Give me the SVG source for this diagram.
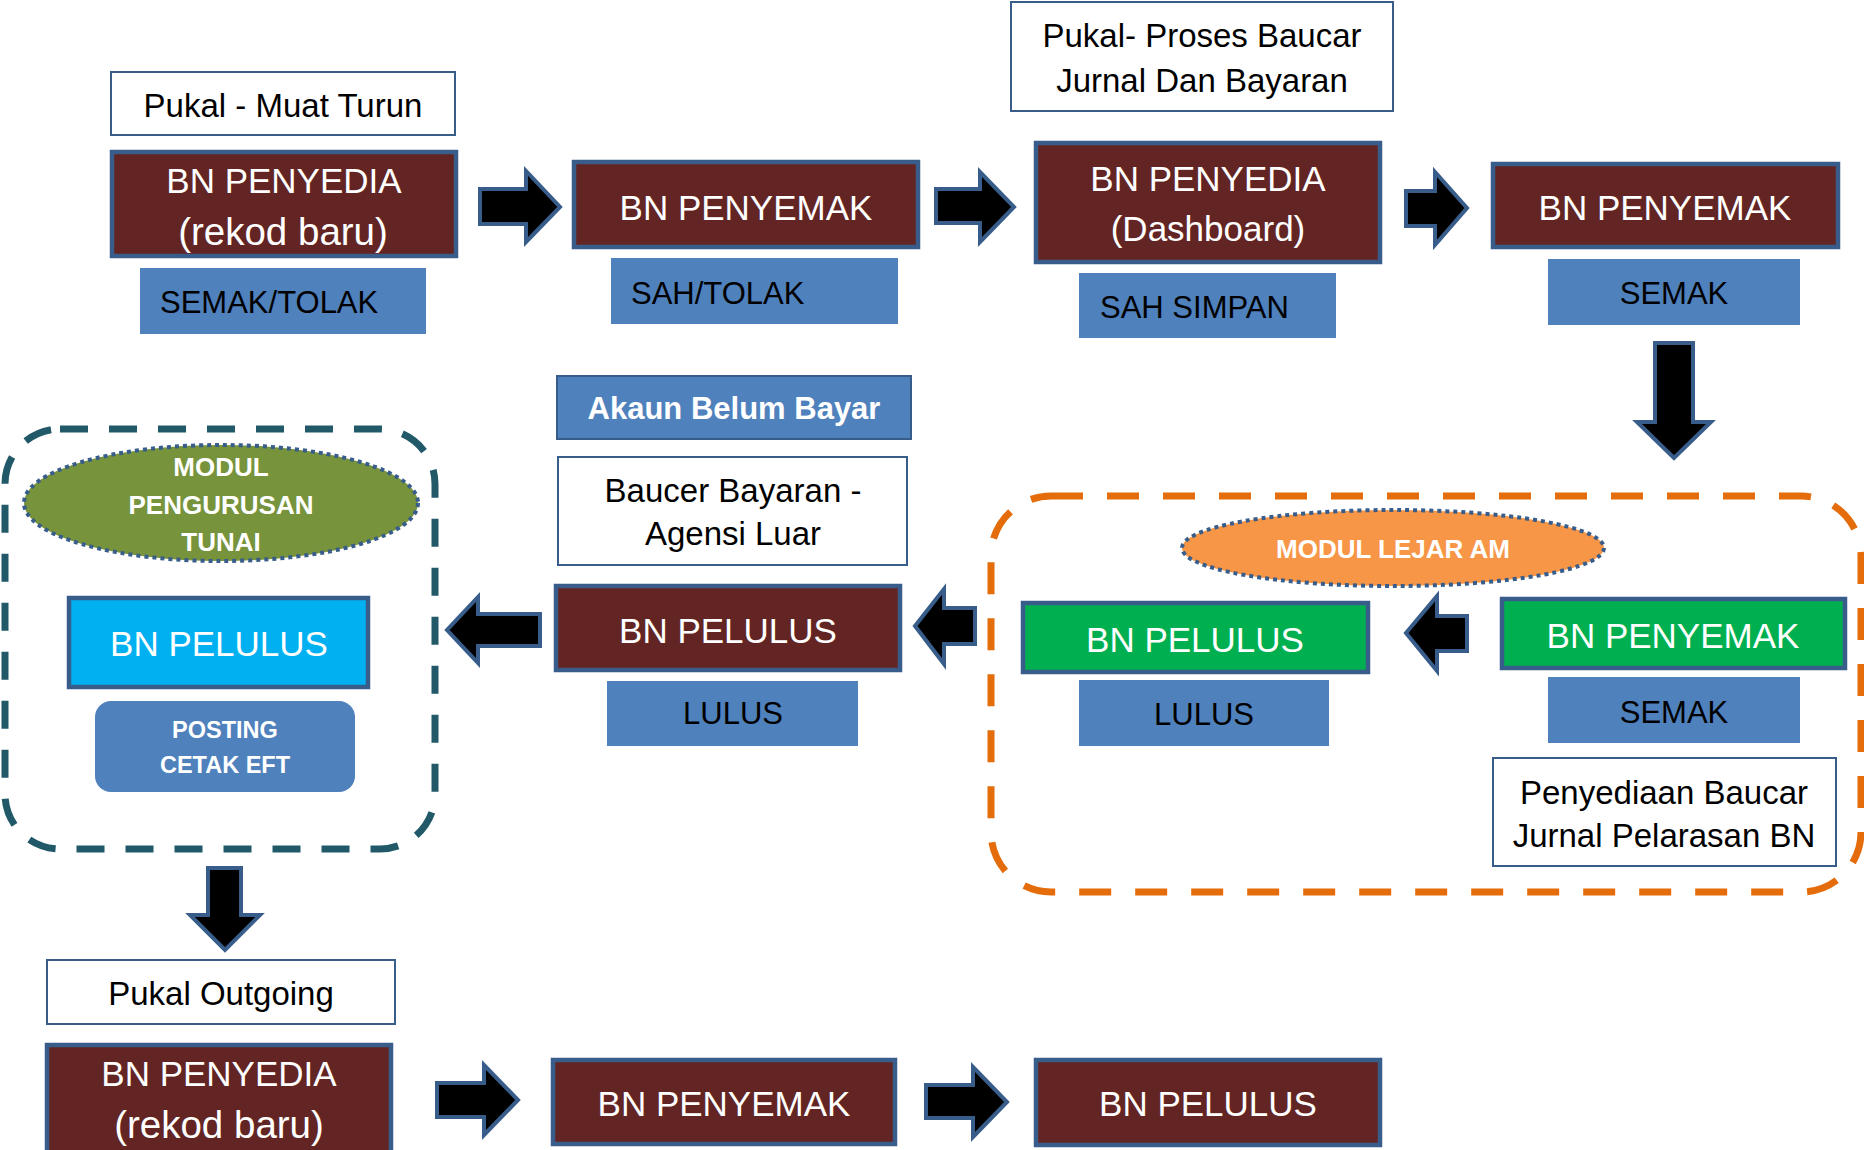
<svg xmlns="http://www.w3.org/2000/svg" width="1864" height="1150" viewBox="0 0 1864 1150">
<style>
text{font-family:"Liberation Sans",Arial,sans-serif;dominant-baseline:central}
.dr{fill:#632523;stroke:#385d8a;stroke-width:4.5}
.gr{fill:#00b050;stroke:#385d8a;stroke-width:4.5}
.cy{fill:#00b0f0;stroke:#385d8a;stroke-width:4.5}
.lb{fill:#4f81bd}
.wb{fill:#ffffff;stroke:#385d8a;stroke-width:2}
.big{fill:#ffffff;font-size:35px;text-anchor:middle}
.par{font-size:38.5px}
.sm{fill:#000000;font-size:31px}
.wt{fill:#000000;font-size:33px;text-anchor:middle}
.bw{fill:#ffffff;font-weight:bold;text-anchor:middle}
.arr{fill:#000000;stroke:#385d8a;stroke-width:4;stroke-linejoin:miter}
.dot{stroke:#385d8a;stroke-width:4;stroke-dasharray:4 4}
</style>

<g id="group-lejar">
<rect x="991" y="496" width="870" height="396" rx="60" ry="60" fill="none" stroke="#e46c0a" stroke-width="7" stroke-dasharray="32 24"/>
</g>
<g id="group-tunai">
<rect x="5" y="429" width="430" height="420" rx="55" ry="55" fill="none" stroke="#215968" stroke-width="7" stroke-dasharray="28 21"/>
</g>

<g id="connectors">
<polygon class="arr" points="480,189 526,189 526,171 560,207 526,242 526,224 480,224"/>
<polygon class="arr" points="936,189 980,189 980,172 1014,207 980,242 980,223 936,223"/>
<polygon class="arr" points="1406,191 1435,191 1435,172 1467,208 1435,245 1435,226 1406,226"/>
<polygon class="arr" points="1655,343 1693,343 1693,422 1711,422 1674,458 1637,422 1655,422"/>
<polygon class="arr" points="1467,616 1437,616 1437,596 1406,633 1437,671 1437,651 1467,651"/>
<polygon class="arr" points="975,608 944,608 944,589 915,626 944,664 944,644 975,644"/>
<polygon class="arr" points="540,614 478,614 478,597 447,630 478,663 478,646 540,646"/>
<polygon class="arr" points="208,868 241,868 241,915 260,915 225,950 190,915 208,915"/>
<polygon class="arr" points="437,1083 484,1083 484,1065 518,1100 484,1135 484,1117 437,1117"/>
<polygon class="arr" points="926,1085 973,1085 973,1067 1007,1102 973,1137 973,1118 926,1118"/>
</g>

<g id="label-muat-turun">
<rect class="wb" x="111" y="72" width="344" height="63"/>
<text class="wt" x="283" y="105">Pukal - Muat Turun</text>
</g>
<g id="node-penyedia-1">
<rect class="dr" x="112" y="152" width="344" height="104"/>
<text class="big" x="284" y="180">BN PENYEDIA</text>
<text class="big par" x="283" y="231">(rekod baru)</text>
</g>
<g id="label-semak-tolak">
<rect class="lb" x="140" y="268" width="286" height="66"/>
<text class="sm" x="160" y="302">SEMAK/TOLAK</text>
</g>

<g id="node-penyemak-1">
<rect class="dr" x="574" y="162" width="344" height="85"/>
<text class="big" x="746" y="207">BN PENYEMAK</text>
</g>
<g id="label-sah-tolak">
<rect class="lb" x="611" y="258" width="287" height="66"/>
<text class="sm" x="631" y="293">SAH/TOLAK</text>
</g>

<g id="label-proses-baucar">
<rect class="wb" x="1011" y="2" width="382" height="109"/>
<text class="wt" x="1202" y="35">Pukal- Proses Baucar</text>
<text class="wt" x="1202" y="80">Jurnal Dan Bayaran</text>
</g>
<g id="node-penyedia-dashboard">
<rect class="dr" x="1036" y="143" width="344" height="119"/>
<text class="big" x="1208" y="178">BN PENYEDIA</text>
<text class="big" x="1208" y="228" font-size="38">(Dashboard)</text>
</g>
<g id="label-sah-simpan">
<rect class="lb" x="1079" y="273" width="257" height="65"/>
<text class="sm" x="1100" y="307">SAH SIMPAN</text>
</g>

<g id="node-penyemak-2">
<rect class="dr" x="1493" y="164" width="345" height="83"/>
<text class="big" x="1665" y="207">BN PENYEMAK</text>
</g>
<g id="label-semak-1">
<rect class="lb" x="1548" y="259" width="252" height="66"/>
<text class="sm" x="1674" y="293" text-anchor="middle">SEMAK</text>
</g>

<g id="node-modul-lejar">
<ellipse class="dot" cx="1393" cy="548" rx="211" ry="38" fill="#f79646"/>
<text class="bw" x="1393" y="549" font-size="26">MODUL LEJAR AM</text>
</g>
<g id="node-pelulus-green">
<rect class="gr" x="1023" y="603" width="345" height="69"/>
<text class="big" x="1195" y="639" font-size="34">BN PELULUS</text>
</g>
<g id="label-lulus-2">
<rect class="lb" x="1079" y="680" width="250" height="66"/>
<text class="sm" x="1204" y="714" text-anchor="middle">LULUS</text>
</g>
<g id="node-penyemak-green">
<rect class="gr" x="1502" y="599" width="343" height="69"/>
<text class="big" x="1673" y="635">BN PENYEMAK</text>
</g>
<g id="label-semak-2">
<rect class="lb" x="1548" y="677" width="252" height="66"/>
<text class="sm" x="1674" y="712" text-anchor="middle">SEMAK</text>
</g>
<g id="label-pelarasan">
<rect class="wb" x="1493" y="758" width="343" height="108"/>
<text class="wt" x="1664" y="792">Penyediaan Baucar</text>
<text class="wt" x="1664" y="835">Jurnal Pelarasan BN</text>
</g>

<g id="label-akaun-belum-bayar">
<rect x="557" y="376" width="354" height="63" fill="#4f81bd" stroke="#385d8a" stroke-width="2"/>
<text class="bw" x="734" y="408" font-size="31">Akaun Belum Bayar</text>
</g>
<g id="label-baucer-bayaran">
<rect class="wb" x="558" y="457" width="349" height="108"/>
<text class="wt" x="733" y="490">Baucer Bayaran -</text>
<text class="wt" x="733" y="533">Agensi Luar</text>
</g>
<g id="node-pelulus-dark">
<rect class="dr" x="556" y="586" width="344" height="84"/>
<text class="big" x="728" y="630" font-size="34">BN PELULUS</text>
</g>
<g id="label-lulus-1">
<rect class="lb" x="607" y="681" width="251" height="65"/>
<text class="sm" x="733" y="713" text-anchor="middle">LULUS</text>
</g>

<g id="node-modul-tunai">
<ellipse class="dot" cx="221" cy="503" rx="197" ry="58" fill="#77933c"/>
<text class="bw" x="221" y="467" font-size="26">MODUL</text>
<text class="bw" x="221" y="505" font-size="26">PENGURUSAN</text>
<text class="bw" x="221" y="542" font-size="26">TUNAI</text>
</g>
<g id="node-pelulus-cyan">
<rect class="cy" x="69" y="598" width="299" height="89"/>
<text class="big" x="219" y="643" font-size="37.5">BN PELULUS</text>
</g>
<g id="label-posting">
<rect class="lb" x="95" y="701" width="260" height="91" rx="16" ry="16"/>
<text class="bw" x="225" y="730" font-size="23.5">POSTING</text>
<text class="bw" x="225" y="765" font-size="23.5">CETAK EFT</text>
</g>

<g id="label-pukal-outgoing">
<rect class="wb" x="47" y="960" width="348" height="64"/>
<text class="wt" x="221" y="993">Pukal Outgoing</text>
</g>
<g id="node-penyedia-bottom">
<rect class="dr" x="47" y="1045" width="344" height="120"/>
<text class="big" x="219" y="1073">BN PENYEDIA</text>
<text class="big par" x="219" y="1124">(rekod baru)</text>
</g>
<g id="node-penyemak-bottom">
<rect class="dr" x="553" y="1060" width="342" height="84"/>
<text class="big" x="724" y="1103">BN PENYEMAK</text>
</g>
<g id="node-pelulus-bottom">
<rect class="dr" x="1036" y="1060" width="344" height="85"/>
<text class="big" x="1208" y="1103" font-size="34">BN PELULUS</text>
</g>
</svg>
